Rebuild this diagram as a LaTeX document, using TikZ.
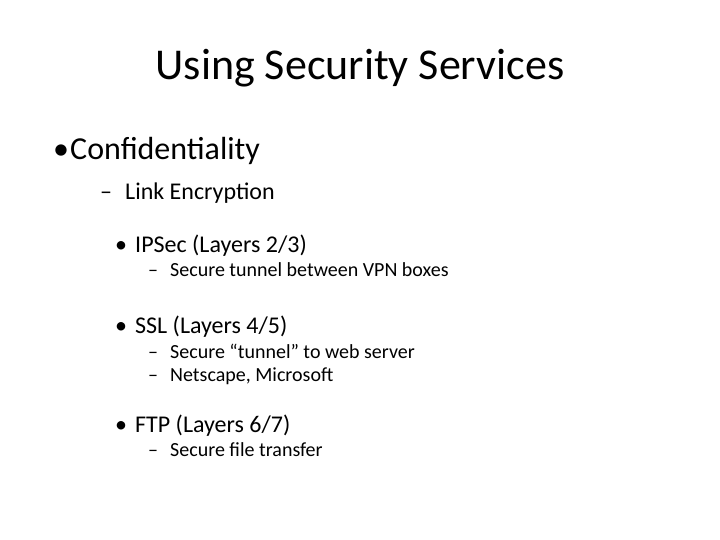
\documentclass[tikz,border=0pt]{standalone}
\usepackage{fontspec}
\setmainfont{Carlito}
\begin{document}
\begin{tikzpicture}[x=1pt,y=-1pt,
  txt/.style={anchor=base west,inner sep=0pt},
  la/.style={txt,font=\fontsize{32}{36}\selectfont},
  lb/.style={txt,font=\fontsize{24}{28}\selectfont},
  lc/.style={txt,font=\fontsize{24}{28}\selectfont},
  ld/.style={txt,font=\fontsize{20}{24}\selectfont}]
\useasboundingbox[fill=white] (0,0) rectangle (720,540);
\node[anchor=base,inner sep=0pt,font=\fontsize{44}{48}\selectfont] (title) at (360,80) {Using Security Services};
\node[la] (b1) at (53,160) {•};
\node[la] (t1) at (70,160) {Confidentiality};
\node[lb] (b2) at (100,200) {–};
\node[lb] (t2) at (125,200) {Link Encryption};
\node[lc] (b3) at (115,252) {•};
\node[lc] (t3) at (135,252) {IPSec (Layers 2/3)};
\node[ld] (b4) at (148,276) {–};
\node[ld] (t4) at (170,276) {Secure tunnel between VPN boxes};
\node[lc] (b5) at (115,333) {•};
\node[lc] (t5) at (135,333) {SSL (Layers 4/5)};
\node[ld] (b6) at (148,358) {–};
\node[ld] (t6) at (170,358) {Secure “tunnel” to web server};
\node[ld] (b7) at (148,381) {–};
\node[ld] (t7) at (170,381) {Netscape, Microsoft};
\node[lc] (b8) at (115,432) {•};
\node[lc] (t8) at (135,432) {FTP (Layers 6/7)};
\node[ld] (b9) at (148,456) {–};
\node[ld] (t9) at (170,456) {Secure file transfer};
\end{tikzpicture}
\end{document}
